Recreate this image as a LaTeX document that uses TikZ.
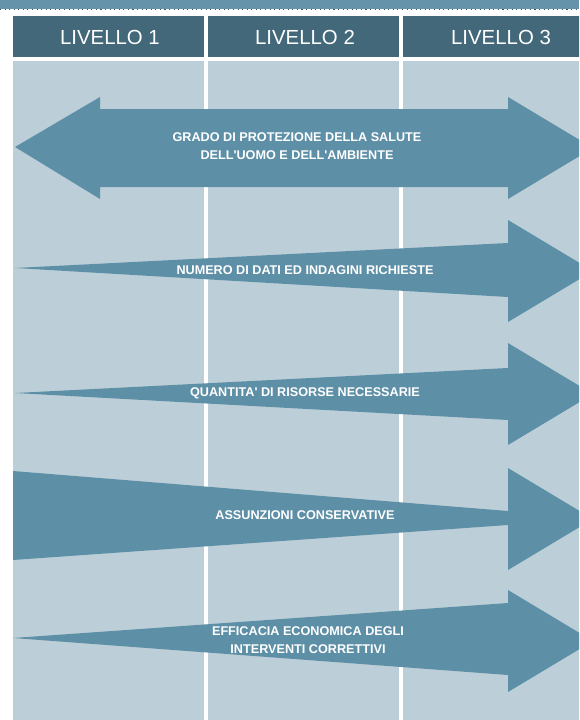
\documentclass[tikz,border=0pt]{standalone}
\usepackage{fontspec}
\setmainfont{Liberation Sans}
\usetikzlibrary{positioning}
\definecolor{topbar}{HTML}{6593A9}
\definecolor{headbg}{HTML}{42687A}
\definecolor{bodybg}{HTML}{BCCFD8}
\definecolor{arrowc}{HTML}{5D8FA7}

\begin{document}
\begin{tikzpicture}[x=0.02cm,y=-0.02cm,
    headtxt/.style={text=white,font=\fontsize{11.6}{13}\selectfont,inner sep=0pt},
    arrtxt/.style={text=white,font=\bfseries\fontsize{7.2}{10.2}\selectfont,align=center,inner sep=0pt},
    bigarrow/.style={fill=arrowc}]
  \useasboundingbox (0,0) rectangle (579,720);
  \clip (0,0) rectangle (579,720);
  % top band
  \fill[topbar] (0,0) rectangle (579,9);
  \draw[topbar!60!black,dotted,line width=0.6pt] (0,9.6) -- (579,9.6);
  % columns
  \foreach \xa/\xb/\xt/\n in {13/204/110/1,208/399/305/2,403/600/501/3}{
    \fill[headbg] (\xa,16) rectangle (\xb,57);
    \fill[bodybg] (\xa,61) rectangle (\xb,720);
    \node[headtxt] (liv\n) at (\xt,37.5) {LIVELLO \n};
  }
  % arrows
  \fill[bigarrow] (15,147) -- (100,97) -- (100,109) -- (508,109) -- (508,97) -- (593,148)
    -- (508,199) -- (508,187) -- (100,187) -- (100,199) -- cycle;
  \node[arrtxt] (salute) at (297,146) {GRADO DI PROTEZIONE DELLA SALUTE\\DELL\textquotesingle UOMO E DELL\textquotesingle AMBIENTE};

  \fill[bigarrow] (15,268) -- (508,243) -- (508,220) -- (593,271) -- (508,322) -- (508,297) -- cycle;
  \node[arrtxt] (dati) at (305,270) {NUMERO DI DATI ED INDAGINI RICHIESTE};

  \fill[bigarrow] (15,393) -- (508,368) -- (508,343) -- (593,394) -- (508,445) -- (508,420) -- cycle;
  \node[arrtxt] (risorse) at (305,393) {QUANTITA\textquotesingle{} DI RISORSE NECESSARIE};

  \fill[bigarrow] (13,471) -- (508,511) -- (508,468) -- (593,519) -- (508,570) -- (508,525) -- (13,560) -- cycle;
  \node[arrtxt] (assunz) at (305,515) {ASSUNZIONI CONSERVATIVE};

  \fill[bigarrow] (13,638) -- (508,603) -- (508,590) -- (593,641) -- (508,692) -- (508,675) -- cycle;
  \node[arrtxt] (efficacia) at (308,640) {EFFICACIA ECONOMICA DEGLI\\INTERVENTI CORRETTIVI};
\end{tikzpicture}
\end{document}
